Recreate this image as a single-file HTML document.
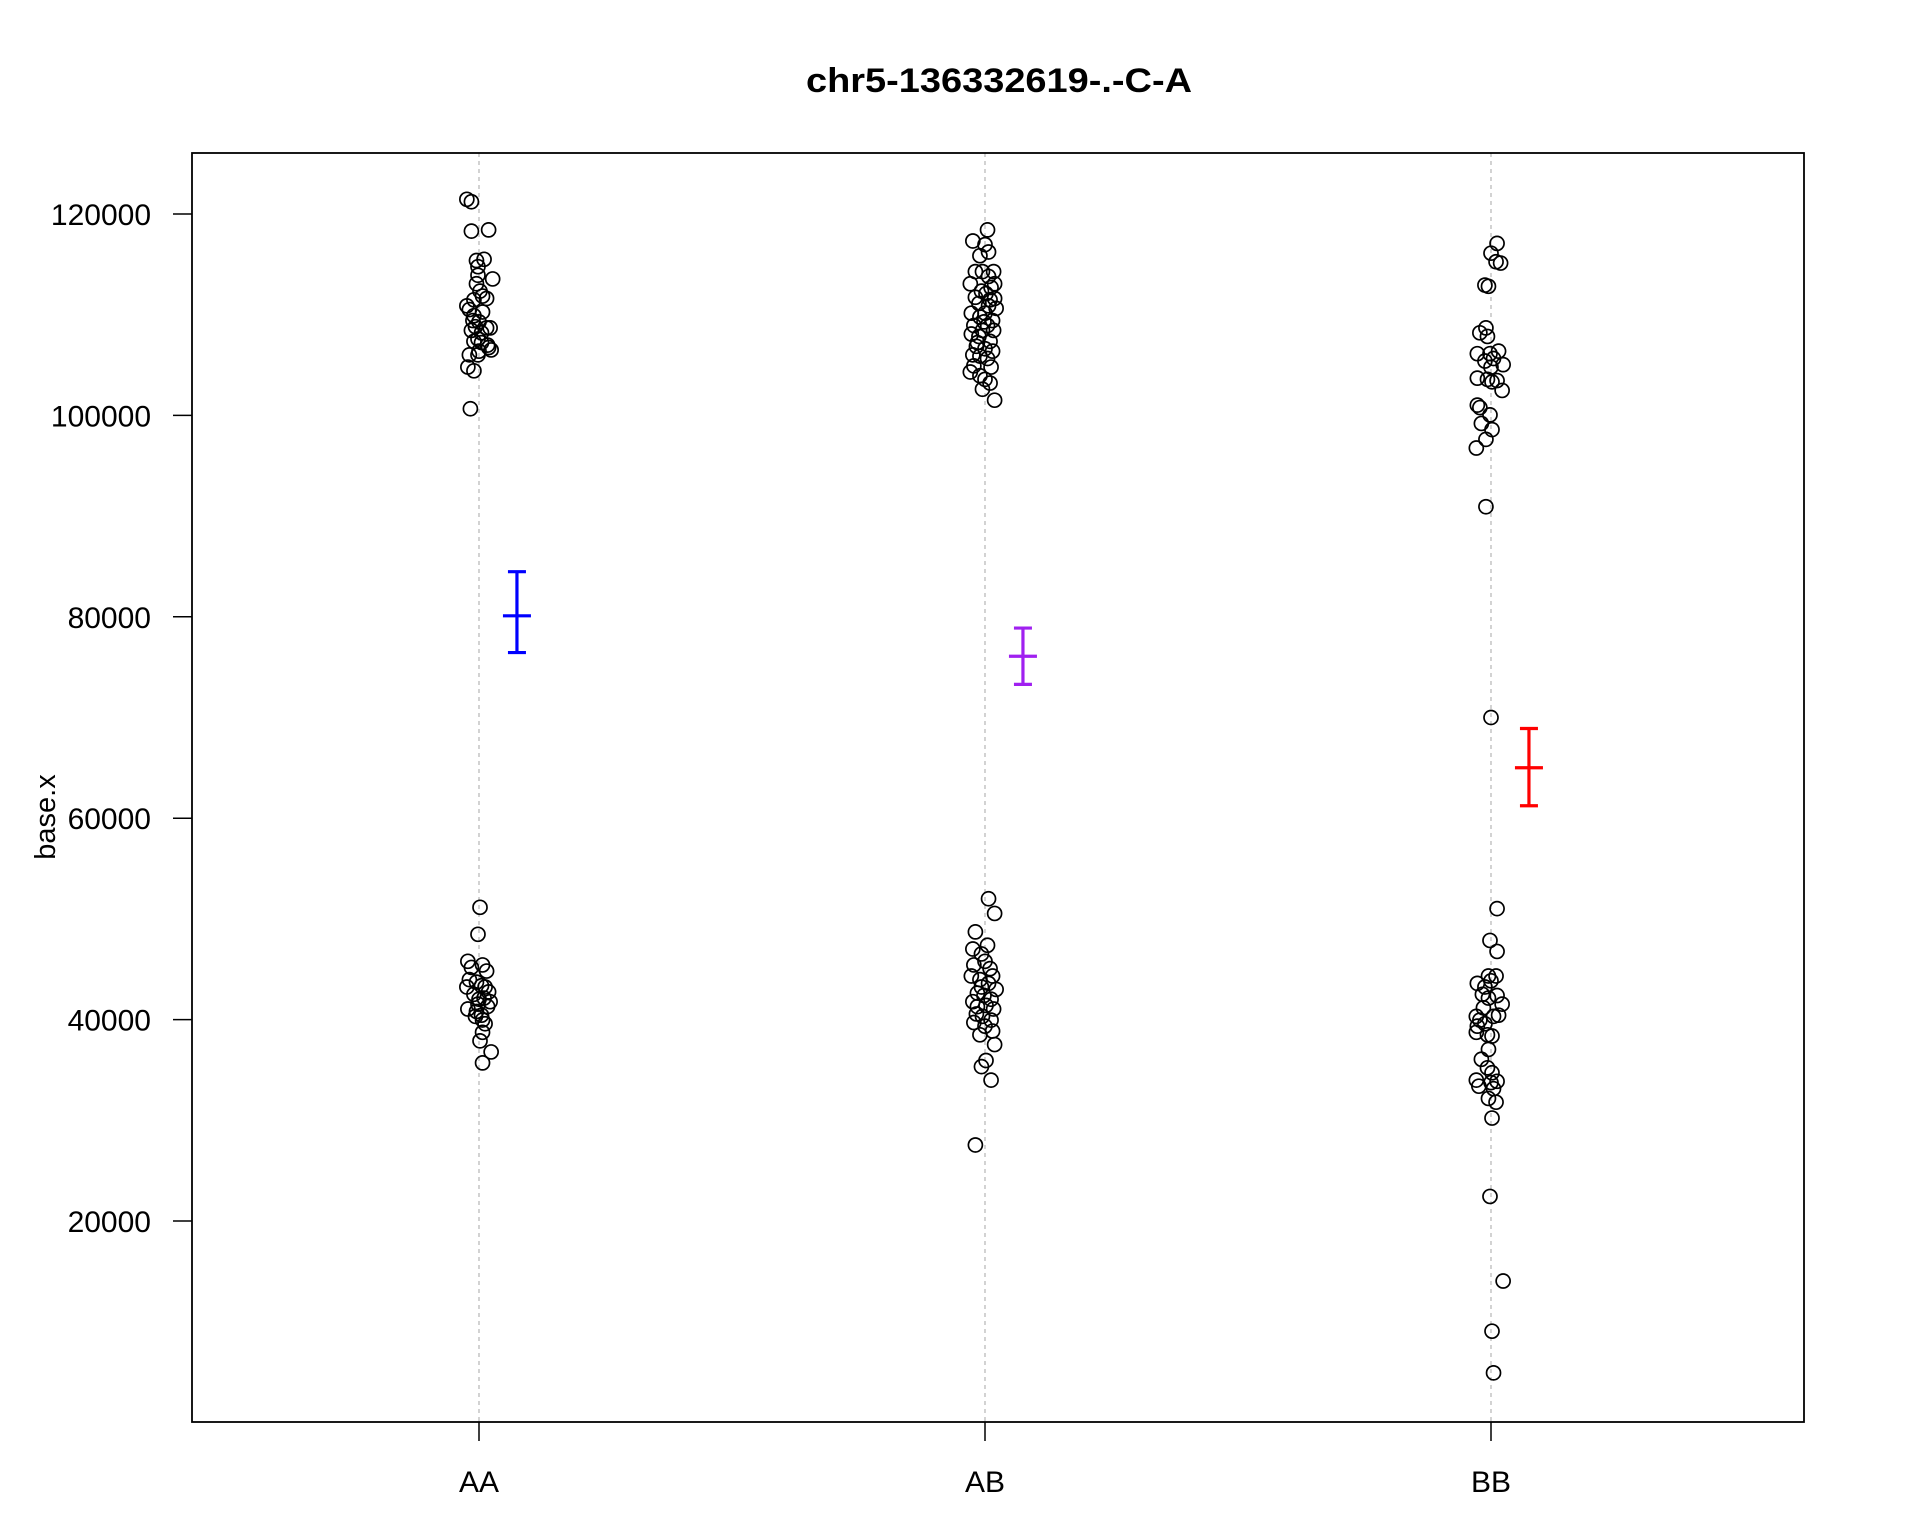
<!DOCTYPE html>
<html><head><meta charset="utf-8"><style>
html,body{margin:0;padding:0;background:#fff;}
svg{display:block;font-family:"Liberation Sans",Arial,sans-serif;}
</style></head><body>
<svg id="chart" width="1920" height="1536" xmlns="http://www.w3.org/2000/svg">
<rect width="1920" height="1536" fill="#fff"/>
<text x="999" y="92" text-anchor="middle" font-size="34" font-weight="bold" textLength="386" lengthAdjust="spacingAndGlyphs">chr5-136332619-.-C-A</text>
<text x="0" y="0" transform="translate(55,817) rotate(-90)" text-anchor="middle" font-size="29">base.x</text>
<g id="grid"></g><g id="axes"></g><g id="pts"></g><g id="errs"></g>
<rect x="192" y="153" width="1612" height="1269" fill="none" stroke="#000" stroke-width="1.8"/>
</svg>
<script>
const categories=["AA","AB","BB"];
const yTicks=[20000,40000,60000,80000,100000,120000];
const aaValues=[121460,121220,118300,118420,115380,115500,114770,113550,113920,113070,112340,110880,110510,111850,111610,111480,109900,110270,109420,109290,108810,108690,108690,108440,108200,107590,107350,107230,106980,106500,106740,106380,106010,106010,104800,104430,100660,
51150,48470,45790,45430,45180,44820,43970,43720,43360,43240,42750,42510,42140,41780,41540,41300,41050,40810,40440,40320,39960,39590,38740,37890,36790,35700,43240,42020];
const aaJitter=[-.024,-.015,-.015,.019,-.005,.010,-.002,.027,-.002,-.005,.002,-.024,-.019,.007,.015,-.010,-.010,.007,-.012,0,-.007,.015,.022,-.015,.005,-.002,-.010,.005,.017,.024,.019,0,-.019,-.002,-.022,-.010,-.017,
.002,-.002,-.022,.007,-.015,.015,-.019,-.005,.005,.012,.019,-.010,.010,.022,-.002,.017,-.022,-.005,.005,-.007,.007,.012,.007,.002,.024,.007,-.024,0];
const abValues=[117320,118420,116960,116230,115860,114280,114280,114280,113800,113070,113070,112700,112340,112090,111730,111480,111120,110630,110150,110150,109780,109420,108930,108930,108440,108440,108080,107840,107350,106860,106620,106380,106010,105890,105650,104920,104800,104310,103940,103580,103210,102600,101510,107230,110880,109290,111610,
52000,50540,48710,47380,47010,46520,45430,45790,44330,44330,43970,43600,43000,42630,42390,42020,41780,41410,41050,40560,40320,39950,39710,39350,38860,38490,37520,35940,35330,33990,27550,43240,45060,41290];
const abJitter=[-.024,.005,0,.007,-.010,-.019,-.005,.017,.007,-.029,.019,.012,-.007,.002,-.019,.010,-.012,.022,-.027,0,-.010,.015,-.022,.005,-.005,.017,-.027,-.012,.010,-.017,0,.015,-.024,-.010,.005,-.022,.012,-.029,-.010,0,.010,-.005,.019,-.015,.007,-.002,.019,
.007,.019,-.019,.005,-.024,-.007,-.022,0,.015,-.027,-.010,.007,.022,-.015,-.002,.012,-.024,.002,.017,-.017,-.005,.012,-.022,0,.015,-.010,.019,.002,-.007,.012,-.019,-.007,.010,-.015];
const bbValues=[117080,116110,115260,115130,112940,112820,108690,108200,107840,106130,106130,105650,106380,105400,105040,104790,103700,103580,103460,103330,102480,101020,100780,100050,99200,98590,97620,96760,90930,70000,
51020,47860,46770,44330,44330,43600,43240,43850,42510,42390,42140,41540,41170,40320,40320,39950,39350,38740,38490,38370,37040,36060,35210,34720,33990,33390,33870,33750,33140,32170,31800,30220,22440,14040,9060,4920,39590,40440];
const bbJitter=[.012,0,.010,.019,-.012,-.005,-.010,-.022,-.007,-.027,-.002,.005,.015,-.012,.024,0,-.027,-.007,.012,.002,.022,-.027,-.022,-.002,-.019,.002,-.010,-.029,-.010,0,
.012,-.002,.012,-.005,.010,-.027,-.012,0,-.017,.012,-.005,.022,-.015,-.029,.005,-.022,-.027,-.029,-.007,.002,-.005,-.019,-.007,.002,-.029,-.024,.012,0,.005,-.005,.010,.002,-.002,.024,.002,.005,-.012,.015];
const means=[80100,76080,65010];
const upper=[84480,78880,68910];
const lower=[76450,73290,61240];
const errColors=["#0000ff","#a020f0","#ff0000"];

const NS="http://www.w3.org/2000/svg";
function xScale(v){return 479+(v-1)*506;}
function yScale(v){return 214+(120000-v)*(201.4/20000);}
function mk(tag,attrs,parent){const e=document.createElementNS(NS,tag);for(const k in attrs)e.setAttribute(k,attrs[k]);document.getElementById(parent).appendChild(e);return e;}

categories.forEach((c,i)=>{
  const x=xScale(i+1);
  const g=mk('line',{x1:x,x2:x,y1:153,y2:1422,stroke:'#bbb','stroke-width':1.3,'stroke-dasharray':'4,4'},'grid');
  
  
  const t=mk('line',{x1:x,x2:x,y1:1422,y2:1441,stroke:'#000','stroke-width':1.5},'axes');
  
  
  const l=mk('text',{x:x,y:1492,'text-anchor':'middle','font-size':'30'},'axes');
  l.textContent=c;
  
  
});
yTicks.forEach(v=>{
  const y=yScale(v);
  const t=mk('line',{x1:173,x2:192,y1:y,y2:y,stroke:'#000','stroke-width':1.5},'axes');
  
  
  const l=mk('text',{x:151,y:y+11,'text-anchor':'end','font-size':'30'},'axes');
  l.textContent=String(v);
  
  
});
const groups=[[aaValues,aaJitter],[abValues,abJitter],[bbValues,bbJitter]];
groups.forEach((g,i)=>{
  g[0].forEach((v,j)=>{
    const p=mk('circle',{cx:xScale(i+1+g[1][j]),cy:yScale(v),r:7,fill:'none',stroke:'#000','stroke-width':1.7},'pts');
    
    
  });
});
means.forEach((m,i)=>{
  const x=xScale(i+1+0.075), col=errColors[i];
  const parts=[[x,x,yScale(upper[i]),yScale(lower[i])],[x-9,x+9,yScale(upper[i]),yScale(upper[i])],[x-9,x+9,yScale(lower[i]),yScale(lower[i])],[x-14,x+14,yScale(m),yScale(m)]];
  parts.forEach(p=>{
    const e=mk('line',{x1:p[0],x2:p[1],y1:p[2],y2:p[3],stroke:col,'stroke-width':3.2},'errs');
    
    
  });
});
</script>
</body></html>
